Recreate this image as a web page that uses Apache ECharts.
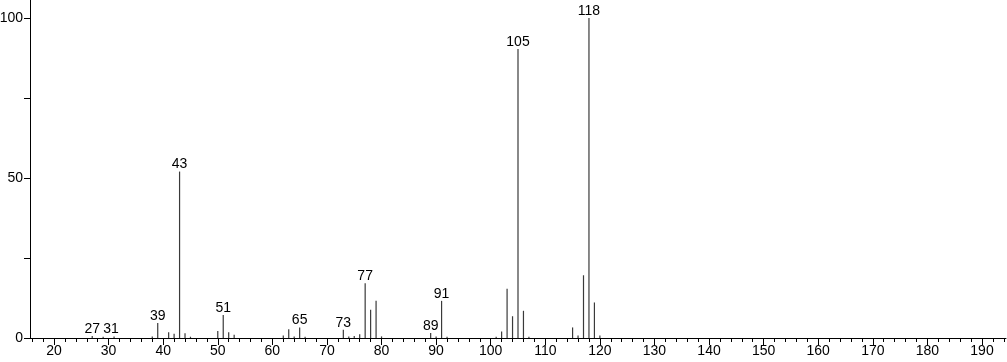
<!DOCTYPE html>
<html><head><meta charset="utf-8">
<script src="https://cdn.jsdelivr.net/npm/echarts@6/dist/echarts.min.js"></script>
<style>html,body{margin:0;padding:0;background:#fff}#c{width:1007px;height:362px}</style>
</head><body><div id="c"></div>
<script>
const mz =        [27, 29, 31, 38, 39, 41, 42, 43, 44, 45, 50, 51, 52, 53, 62, 63, 64, 65, 66, 73, 74, 75, 76, 77, 78, 79, 80, 89, 90, 91, 92, 101, 102, 103, 104, 105, 106, 107, 115, 116, 117, 118, 119, 120];
const intensity = [0.6,0.4,0.5,0.5,4.7,1.8,1.3,52, 1.5,0.4,2.2,7.2,1.8,1.0,0.8,2.7,0.5,3.3,0.4,2.6,0.5,0.6,1.2,17.1,8.8,11.6,0.5,1.6,0.5,11.6,0.4,0.4,2.0,15.4,6.8,90.3,8.5,0.4,3.3,0.8,19.6,100,11.1,0.8];
const labeled = [27, 31, 39, 43, 51, 65, 73, 77, 89, 91, 105, 118];
const xTickLabels = [20,30,40,50,60,70,80,90,100,110,120,130,140,150,160,170,180,190];
const xMinorTicks = [];
for (let v = 16; v <= 194; v += 2) xMinorTicks.push(v);
const yTicks = [0, 25, 50, 75, 100];
const yTickLabels = [0, 50, 100];

const font = 'Liberation Sans, Arial, sans-serif';
const chart = echarts.init(document.getElementById('c'));
const data = mz.map((m, i) => ({
  value: [m, intensity[i]],
  label: { show: labeled.includes(m), offset: m === 31 ? [-3, 0] : [0, 0] }
}));
chart.setOption({
  animation: false,
  grid: { left: 30, right: 1, top: 0, bottom: 24, containLabel: false, outerBoundsMode: 'none' },
  xAxis: [{
    type: 'value', min: 15.6, max: 194.4, position: 'bottom',
    axisLine: { show: true, onZero: false, lineStyle: { color: '#000', width: 1 } },
    axisTick: { show: true, customValues: xTickLabels, length: 7, lineStyle: { color: '#000' } },
    axisLabel: { customValues: xTickLabels, color: '#000', fontSize: 14, fontFamily: font, margin: 6 },
    splitLine: { show: false }
  }, {
    type: 'value', min: 15.6, max: 194.4, position: 'bottom',
    axisLine: { show: false },
    axisTick: { show: true, customValues: xMinorTicks, length: 4, lineStyle: { color: '#000' } },
    axisLabel: { show: false },
    splitLine: { show: false }
  }],
  yAxis: {
    type: 'value', min: 0, max: 105.6,
    axisLine: { show: true, lineStyle: { color: '#000', width: 1 } },
    axisTick: { show: true, customValues: yTicks, length: 6, lineStyle: { color: '#000' } },
    axisLabel: { customValues: yTickLabels, color: '#000', fontSize: 14, fontFamily: font, margin: 7 },
    splitLine: { show: false }
  },
  series: [{
    type: 'bar', xAxisIndex: 0, data: data, barWidth: 1.2,
    itemStyle: { color: '#3a3a3a' },
    label: { position: 'top', distance: 0, color: '#000', fontSize: 14, fontFamily: font,
      formatter: p => String(p.value[0]) }
  }]
});
</script></body></html>
